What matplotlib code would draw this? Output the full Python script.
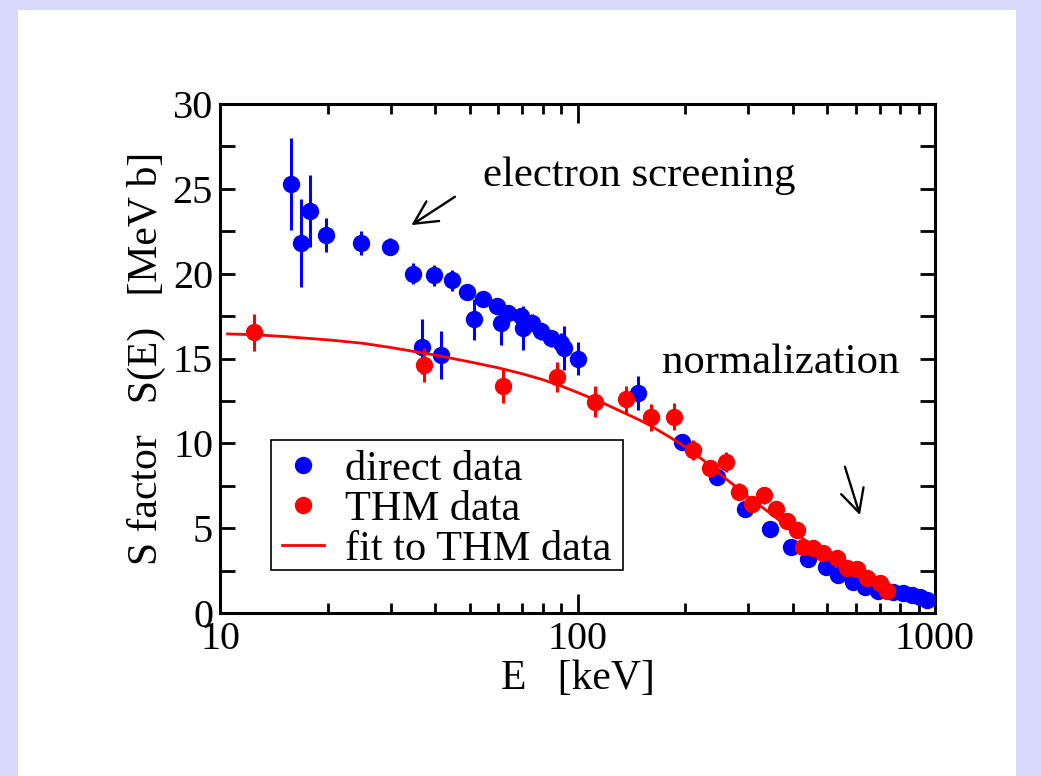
import matplotlib
matplotlib.use("Agg")
import matplotlib.pyplot as plt
from matplotlib.patches import Rectangle
from matplotlib.lines import Line2D
from matplotlib.ticker import FixedLocator, NullFormatter, MultipleLocator

# ---- data ----
direct_E = [15.8, 16.85, 17.85, 19.8, 24.8, 29.9, 34.7, 36.7, 39.7, 41.5, 44.6, 49.1,
            51.3, 54.4, 59.5, 61.1, 63.9, 69.5, 70.4, 74.6, 79.1, 84.3, 89.9, 91.5,
            100.3, 147.8, 196.4, 245, 294, 345.6, 394.6, 442.4, 495.6, 536.6, 590.9,
            637.3, 694.2, 764.6, 815, 860.6, 907.8, 948]
direct_S = [25.3, 21.8, 23.7, 22.3, 21.8, 21.6, 20.0, 15.7, 19.9, 15.2, 19.6, 18.9,
            17.3, 18.5, 18.1, 17.1, 17.7, 17.5, 16.8, 17.1, 16.6, 16.2, 15.9, 15.6,
            15.0, 12.95, 10.1, 8.0, 6.11, 4.93, 3.91, 3.16, 2.73, 2.24, 1.85,
            1.55, 1.31, 1.26, 1.16, 1.06, 0.96, 0.77]
direct_err = [2.7, 2.6, 2.1, 1.0, 0.7, 0.5, 0.6, 1.6, 0.6, 1.4, 0.6, 0.4,
              1.2, 0.4, 0.4, 1.3, 0.4, 0.5, 1.3, 0.5, 0.5, 0.5, 0.6, 1.3,
              1.0, 1.0, 0.2, 0.1, 0.0, 0.0, 0.0, 0.0, 0.0, 0.0, 0.0,
              0.0, 0.0, 0.0, 0.0, 0.0, 0.0, 0.0]

thm_E = [12.47, 37.3, 62.0, 87.5, 111.9, 136.7, 160.5, 186.2, 210.9, 234.8, 260.3,
         283.5, 307, 333, 359, 386, 410, 426.6, 456.6, 487, 531, 566, 604, 644, 702, 732]
thm_S = [16.54, 14.6, 13.4, 13.9, 12.45, 12.6, 11.53, 11.57, 9.6, 8.53, 8.9,
         7.15, 6.42, 6.95, 6.11, 5.44, 4.89, 3.87, 3.81, 3.52, 3.22, 2.63, 2.57, 2.04, 1.75, 1.31]
thm_err = [1.1, 1.0, 1.0, 0.9, 0.9, 0.8, 0.8, 0.8, 0.6, 0.5, 0.6,
           0.5, 0.3, 0.5, 0.3, 0.3, 0.3, 0.2, 0.2, 0.2, 0.2, 0.2, 0.2, 0.2, 0.2, 0.2]

fit_E = [10.5, 12.5, 15, 20, 25, 30, 40, 50, 60, 70, 80, 90, 100, 120, 150, 160, 180,
         200, 225, 250, 275, 300, 350, 400, 450, 500, 550, 600, 650, 700, 765]
fit_S = [16.45, 16.4, 16.3, 16.1, 15.9, 15.65, 15.2, 14.8, 14.45, 14.1, 13.75, 13.38,
         13.0, 12.3, 11.35, 11.04, 10.4, 9.8, 9.0, 8.2, 7.5, 6.85, 5.8, 4.85, 4.0,
         3.3, 2.78, 2.3, 1.93, 1.6, 1.27]

x_ticks = [10, 100, 1000]
x_ticklabels = ["10", "100", "1000"]

# ---- figure ----
plt.rcParams['font.family'] = ['Liberation Serif', 'DejaVu Serif']
W, H = 1041, 776
fig = plt.figure(figsize=(W / 100, H / 100), dpi=100)
fig.patch.set_facecolor('#d9d9fb')
fig.patches.append(Rectangle((18 / W, 0), (1016 - 18) / W, (H - 10) / H,
                             transform=fig.transFigure, facecolor='white',
                             edgecolor='none', zorder=-10))

ax = fig.add_axes([220 / W, 1 - 613 / H, (935 - 220) / W, (613 - 104) / H])
ax.set_facecolor('white')

BLUE, RED = '#0000ff', '#ff0000'
ax.errorbar(direct_E, direct_S, yerr=direct_err, fmt='o', color=BLUE,
            ms=11.5, elinewidth=2.2, capsize=0, zorder=3)
ax.errorbar(thm_E, thm_S, yerr=thm_err, fmt='o', color=RED,
            ms=11.5, elinewidth=2.2, capsize=0, zorder=4)
ax.plot(fit_E, fit_S, '-', color=RED, lw=2.0, zorder=5)

ax.set_xscale('log')
ax.set_xlim(10, 1000)
ax.set_ylim(0, 30)
ax.xaxis.set_major_locator(FixedLocator(x_ticks))
ax.set_xticklabels(x_ticklabels)
ax.xaxis.set_minor_locator(FixedLocator([20, 30, 40, 50, 60, 70, 80, 90,
                                         200, 300, 400, 500, 600, 700, 800, 900]))
ax.xaxis.set_minor_formatter(NullFormatter())
ax.yaxis.set_major_locator(MultipleLocator(5))
ax.yaxis.set_minor_locator(MultipleLocator(2.5))

for s in ax.spines.values():
    s.set_linewidth(2.2)
ax.tick_params(axis='both', which='both', direction='in', top=True, right=True,
               width=2.0, labelsize=29)
ax.tick_params(axis='x', which='major', length=14, pad=6)
ax.tick_params(axis='x', which='minor', length=7)
ax.tick_params(axis='y', which='both', length=11, pad=5)

ax.set_xlabel('E   [keV]', fontsize=30, labelpad=1)
ax.set_ylabel('S factor   S(E)   [MeV b]', fontsize=30, labelpad=5)

arrow_style = '->,head_length=0.55,head_width=0.28'
ax.annotate('', xy=(34.3, 22.86), xytext=(45.4, 24.53),
            arrowprops=dict(arrowstyle=arrow_style, lw=1.7, color='black',
                            mutation_scale=30, shrinkA=0, shrinkB=0))
ax.text(54.4, 25.16, 'electron screening', fontsize=30.8, ha='left', va='baseline')
ax.annotate('', xy=(616.6, 5.77), xytext=(559.8, 8.62),
            arrowprops=dict(arrowstyle=arrow_style, lw=1.7, color='black',
                            mutation_scale=30, shrinkA=0, shrinkB=0))
ax.text(172, 14.14, 'normalization', fontsize=30.8, ha='left', va='baseline')

# legend box (frame drawn separately so its padding matches the reference)
ax.add_patch(Rectangle((271 / W, 1 - 570 / H), 352 / W, 130 / H,
                       transform=fig.transFigure, facecolor='white',
                       edgecolor='black', lw=1.2, zorder=6, clip_on=False))
handles = [
    Line2D([], [], marker='o', ls='none', color=BLUE, ms=11.5),
    Line2D([], [], marker='o', ls='none', color=RED, ms=11.5),
    Line2D([], [], ls='-', color=RED, lw=2.0),
]
labels = ['direct data', 'THM data', 'fit to THM data']
leg = ax.legend(handles, labels, loc='upper left',
                bbox_to_anchor=(271 / W, 1 - 440 / H),
                bbox_transform=fig.transFigure, borderaxespad=0, fontsize=30.5,
                frameon=False, handlelength=1.0, handletextpad=0.5,
                borderpad=0.25, labelspacing=0.03, numpoints=1)
leg.set_zorder(7)

fig.savefig('out.png', dpi=100, facecolor=fig.get_facecolor())
